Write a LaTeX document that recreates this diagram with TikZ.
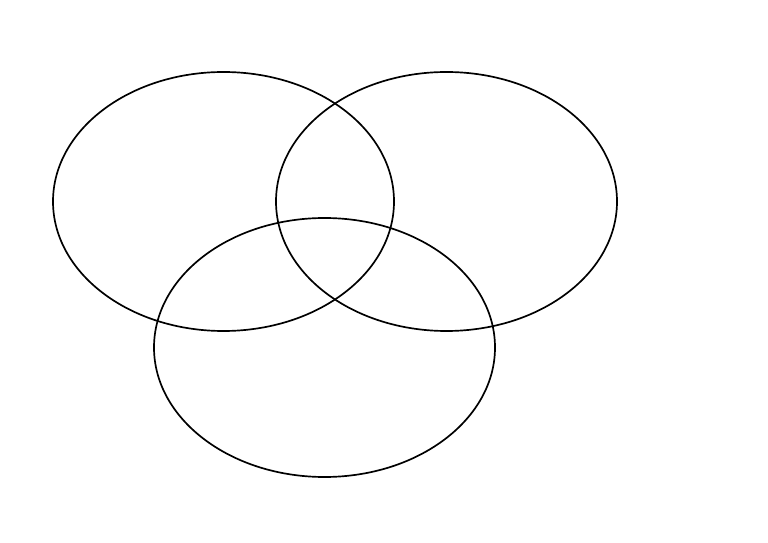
\documentclass[tikz,border=0pt]{standalone}
\usepackage{tikz}

\begin{document}
\begin{tikzpicture}[x=0.025cm,y=-0.025cm,
  setline/.style={line width=1.2pt}]

% Page frame (768 x 543)
\useasboundingbox (0,0) rectangle (768,543);

% Define centres
\coordinate (A) at (223.5,201.5);
\coordinate (B) at (446.5,201.5);
\coordinate (C) at (324.5,347.5);

% Draw the three sets
\draw[setline] (A) ellipse [x radius=170.5, y radius=129.5];
\draw[setline] (B) ellipse [x radius=170.5, y radius=129.5];
\draw[setline] (C) ellipse [x radius=170.5, y radius=129.5];

\end{tikzpicture}
\end{document}
